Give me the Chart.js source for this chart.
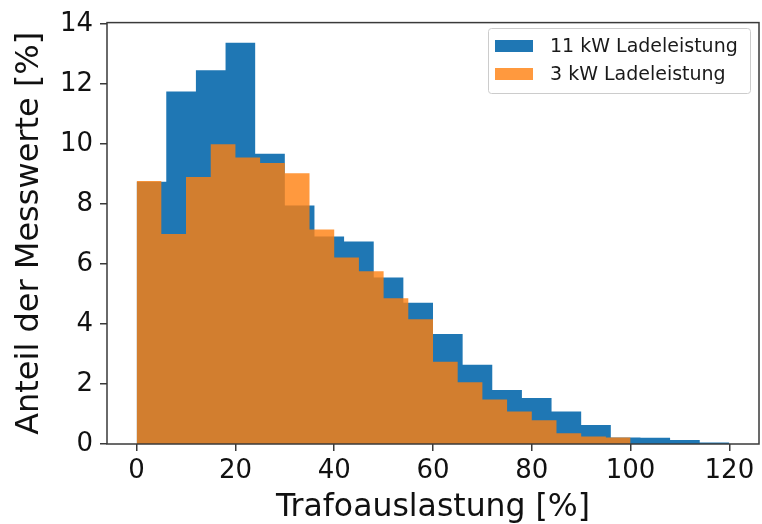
<!DOCTYPE html>
<html>
<head>
<meta charset="utf-8">
<script src="https://cdn.jsdelivr.net/npm/chart.js@4/dist/chart.umd.min.js"></script>
<style>
  html, body { margin: 0; padding: 0; background: #fff; }
  #wrap { width: 762px; height: 524px; }
</style>
</head>
<body>
<div id="wrap"><canvas id="c" width="762" height="524"></canvas></div>
<script>
// ---- data ----
const seriesNames = ['11 kW Ladeleistung', '3 kW Ladeleistung'];
const edges11 = [0, 6, 12, 18, 24, 30, 36, 42, 48, 54, 60, 66, 72, 78, 84, 90, 96, 102, 108, 114, 120];
const values11 = [8.74, 11.75, 12.46, 13.38, 9.68, 7.95, 6.92, 6.75, 5.55, 4.71, 3.67, 2.64, 1.80, 1.53, 1.08, 0.63, 0.22, 0.21, 0.13, 0.05];
const edges3 = [0, 5, 10, 15, 20, 25, 30, 35, 40, 45, 50, 55, 60, 65, 70, 75, 80, 85, 90, 95, 100];
const values3 = [8.77, 7.0, 8.9, 9.99, 9.55, 9.37, 9.03, 7.15, 6.22, 5.76, 4.86, 4.16, 2.74, 2.06, 1.48, 1.08, 0.79, 0.36, 0.25, 0.22];
const xTicks = [0, 20, 40, 60, 80, 100, 120];
const yTicks = [0, 2, 4, 6, 8, 10, 12, 14];
const xTitle = 'Trafoauslastung [%]';
const yTitle = 'Anteil der Messwerte [%]';

const colBlue = 'rgb(31,119,180)';
const colOrange = 'rgba(255,127,14,0.8)';

function stepPoints(edges, vals) {
  const pts = vals.map((v, i) => ({ x: edges[i], y: v }));
  pts.push({ x: edges[edges.length - 1], y: vals[vals.length - 1] });
  return pts;
}

const FONT = "'DejaVu Sans', 'Liberation Sans', sans-serif";

const framePlugin = {
  id: 'frame',
  afterDatasetsDraw(chart) {
    const { ctx, chartArea: a } = chart;
    ctx.save();
    ctx.strokeStyle = '#3a3a3a';
    ctx.lineWidth = 1.5;
    ctx.strokeRect(a.left, a.top, a.right - a.left, a.bottom - a.top);
    ctx.restore();
  }
};

const boxLegend = {
  id: 'boxLegend',
  afterDraw(chart) {
    const { ctx } = chart;
    const ds = chart.data.datasets;
    const x0 = 488, y0 = 28, w = 262, h = 65;
    ctx.save();
    ctx.fillStyle = 'rgba(255,255,255,0.8)';
    ctx.strokeStyle = '#cccccc';
    ctx.lineWidth = 1;
    ctx.beginPath();
    if (ctx.roundRect) ctx.roundRect(x0 + 0.5, y0 + 0.5, w, h, 3); else ctx.rect(x0 + 0.5, y0 + 0.5, w, h);
    ctx.fill();
    ctx.stroke();
    ctx.font = '19px ' + FONT;
    ctx.textBaseline = 'middle';
    ctx.textAlign = 'left';
    ds.forEach((d, i) => {
      const cy = 46 + i * 28;
      ctx.fillStyle = d.backgroundColor;
      ctx.fillRect(495, cy - 6, 38, 12);
      ctx.fillStyle = '#1a1a1a';
      ctx.fillText(d.label, 550, cy + 1);
    });
    ctx.restore();
  }
};

new Chart(document.getElementById('c'), {
  type: 'line',
  data: {
    datasets: [
      {
        label: seriesNames[0],
        data: stepPoints(edges11, values11),
        stepped: 'before',
        fill: 'origin',
        backgroundColor: colBlue,
        borderColor: colBlue,
        borderWidth: 0,
        pointRadius: 0,
        order: 2
      },
      {
        label: seriesNames[1],
        data: stepPoints(edges3, values3),
        stepped: 'before',
        fill: 'origin',
        backgroundColor: colOrange,
        borderColor: colOrange,
        borderWidth: 0,
        pointRadius: 0,
        order: 1
      }
    ]
  },
  options: {
    responsive: false,
    animation: false,
    devicePixelRatio: 1,
    layout: { padding: { top: 20, right: 3, left: 0, bottom: 0 } },
    plugins: {
      legend: { display: false },
      tooltip: { enabled: false },
      filler: { propagate: false }
    },
    scales: {
      x: {
        type: 'linear',
        min: -6,
        max: 126,
        afterBuildTicks: s => { s.ticks = xTicks.map(v => ({ value: v })); },
        afterFit: s => { s.height = 80; },
        grid: { display: true, drawOnChartArea: false, drawTicks: true, tickLength: 7, color: '#3a3a3a', lineWidth: 1.5 },
        border: { display: false },
        ticks: { font: { family: FONT, size: 26 }, color: '#111', padding: 5, maxRotation: 0, autoSkip: false },
        title: { display: true, text: xTitle, font: { family: FONT, size: 31.5, lineHeight: 1.0 }, color: '#111', padding: { top: 0, bottom: 0 } }
      },
      y: {
        type: 'linear',
        min: 0,
        max: 14.05,
        afterBuildTicks: s => { s.ticks = yTicks.map(v => ({ value: v })); },
        afterFit: s => { s.width = 107; },
        grid: { display: true, drawOnChartArea: false, drawTicks: true, tickLength: 7, color: '#3a3a3a', lineWidth: 1.5 },
        border: { display: false },
        ticks: { font: { family: FONT, size: 26 }, color: '#111', padding: 7 },
        title: { display: true, text: yTitle, font: { family: FONT, size: 32, lineHeight: 1.2 }, color: '#111', padding: { top: 10, bottom: 0 } }
      }
    }
  },
  plugins: [framePlugin, boxLegend]
});
</script>
</body>
</html>
